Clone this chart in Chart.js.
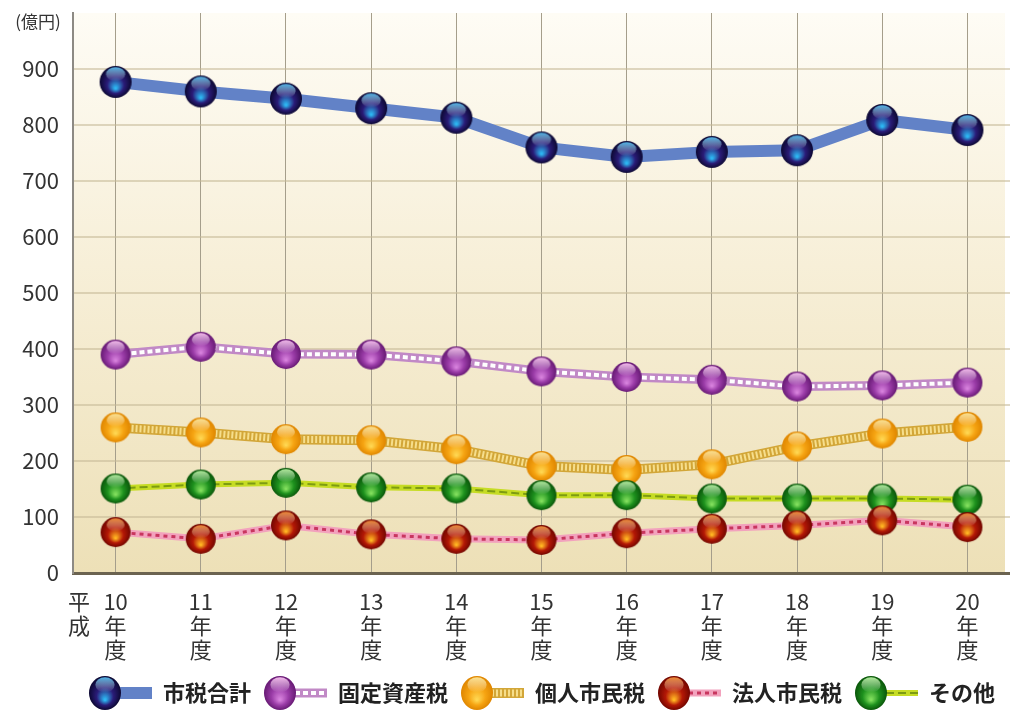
<!DOCTYPE html>
<html lang="ja">
<head>
<meta charset="utf-8">
<title>市税の推移</title>
<script src="https://cdn.jsdelivr.net/npm/chart.js@4.4.1/dist/chart.umd.min.js"></script>
<style>
  html, body { margin: 0; padding: 0; background: #fff; }
  #wrap { width: 1010px; height: 710px; }
</style>
</head>
<body>
<div id="wrap"><canvas id="taxChart" width="1010" height="710"></canvas></div>
<script>
// 平成10〜20年度 市税の推移（億円）
const years = ['10', '11', '12', '13', '14', '15', '16', '17', '18', '19', '20'];
const seriesNames = ['市税合計', '固定資産税', '個人市民税', '法人市民税', 'その他'];
const cityTaxTotal = [877, 860, 847, 830, 813, 760, 743, 752, 755, 809, 791];
const fixedAssetTax = [390, 404, 391, 390, 378, 360, 350, 345, 333, 335, 340];
const individualTax = [260, 251, 239, 237, 221, 191, 184, 194, 226, 249, 261];
const corporateTax = [73, 61, 85, 69, 61, 59, 71, 79, 85, 94, 82];
const otherTax = [151, 158, 161, 153, 151, 139, 139, 133, 133, 133, 131];
const yTicks = [0, 100, 200, 300, 400, 500, 600, 700, 800, 900];

const seriesData = [cityTaxTotal, fixedAssetTax, individualTax, corporateTax, otherTax];

const FONT = '"Noto Sans CJK JP", "Noto Sans", sans-serif';
Chart.defaults.font.family = FONT;

// glossy ball colours
const ballColors = [
    { edge: '#0c0832', body: '#2a1c78', glow: '#2db6f2', shine: 'rgba(80,200,255,0.9)' },
    { edge: '#671a74', body: '#9b3ca8', glow: '#d680dc', shine: 'rgba(255,195,245,0.95)' },
    { edge: '#df8600', body: '#f6a412', glow: '#ffd650', shine: 'rgba(255,238,160,0.9)' },
    { edge: '#720600', body: '#b41806', glow: '#ffb422', shine: 'rgba(255,150,50,0.9)' },
    { edge: '#0a560a', body: '#1e921e', glow: '#80de5c', shine: 'rgba(195,255,170,0.9)' }
];

// line band + inner pattern
const bandStyles = [
    { color: '#6282c7', width: 12 },
    { color: '#c189c6', width: 9, dash: [5, 3], dashColor: '#ffffff', dashWidth: 4 },
    { color: '#d2a638', width: 10, dash: [2, 2], dashColor: '#f6de8c', dashWidth: 7 },
    { color: '#f2a2bd', width: 7, dash: [4, 4], dashColor: '#c8365f', dashWidth: 3 },
    { color: '#c6dc24', width: 6, dash: [8, 4], dashColor: '#7d9b12', dashWidth: 2 }
];

// red balls sit over the green ones
const pointOrder = [4, 3, 2, 0, 1];

function drawBall(ctx, cx, cy, rx, ry, col) {
    ctx.save();
    ctx.translate(cx, cy);
    ctx.scale(1, ry / rx);
    const r = rx;
    let g = ctx.createRadialGradient(0, r * 0.4, r * 0.05, 0, 0, r);
    g.addColorStop(0, col.glow);
    g.addColorStop(0.5, col.body);
    g.addColorStop(1, col.edge);
    ctx.fillStyle = g;
    ctx.beginPath();
    ctx.arc(0, 0, r, 0, Math.PI * 2);
    ctx.fill();

    g = ctx.createLinearGradient(0, -r * 0.95, 0, -r * 0.05);
    g.addColorStop(0, col.shine);
    g.addColorStop(1, 'rgba(255,255,255,0)');
    ctx.fillStyle = g;
    ctx.beginPath();
    ctx.ellipse(0, -r * 0.48, r * 0.6, r * 0.44, 0, 0, Math.PI * 2);
    ctx.fill();
    ctx.restore();
}

function makeBallIcon(col, r) {
    const c = document.createElement('canvas');
    c.width = c.height = r * 2 + 2;
    drawBall(c.getContext('2d'), r + 1, r + 1, r, r, col);
    return c;
}

function makeLegendIcon(col, s) {
    const c = document.createElement('canvas');
    c.width = 64;
    c.height = 36;
    const ctx = c.getContext('2d');
    ctx.lineCap = 'butt';
    ctx.strokeStyle = s.color;
    ctx.lineWidth = s.width;
    ctx.beginPath();
    ctx.moveTo(26, 18);
    ctx.lineTo(64, 18);
    ctx.stroke();
    if (s.dash) {
        ctx.strokeStyle = s.dashColor;
        ctx.lineWidth = s.dashWidth;
        ctx.setLineDash(s.dash);
        ctx.beginPath();
        ctx.moveTo(32, 18);
        ctx.lineTo(64, 18);
        ctx.stroke();
    }
    drawBall(ctx, 17, 18, 16, 17, col);
    return c;
}

const ballIcons = ballColors.map((col, i) => makeBallIcon(col, i === 0 ? 16 : 15));
const legendIcons = ballColors.map((col, i) => makeLegendIcon(col, bandStyles[i]));

const datasets = [];
seriesData.forEach((values, i) => {
    const s = bandStyles[i];
    datasets.push({
        label: seriesNames[i],
        data: values,
        borderColor: s.color,
        borderWidth: s.width,
        borderJoinStyle: 'round',
        pointRadius: 0,
        tension: 0,
        order: 20 + i
    });
    if (s.dash) {
        datasets.push({
            label: seriesNames[i],
            data: values,
            borderColor: s.dashColor,
            borderWidth: s.dashWidth,
            borderDash: s.dash,
            pointRadius: 0,
            tension: 0,
            order: 10 + i
        });
    }
    datasets.push({
        label: seriesNames[i],
        data: values,
        showLine: false,
        pointStyle: ballIcons[i],
        pointRadius: 16,
        order: pointOrder[i]
    });
});

// cream gradient behind the plot
const chartBackground = {
    id: 'chartBackground',
    beforeDraw(chart) {
        const { ctx, chartArea: a } = chart;
        const g = ctx.createLinearGradient(0, a.top, 0, a.bottom);
        g.addColorStop(0, '#fefcf5');
        g.addColorStop(0.45, '#f7efd8');
        g.addColorStop(1, '#ede0b7');
        ctx.save();
        ctx.fillStyle = g;
        ctx.fillRect(a.left, a.top, a.right - a.left - 5, a.bottom - a.top);
        ctx.restore();
    }
};

// unit label and era name
const axisNotes = {
    id: 'axisNotes',
    afterDraw(chart) {
        const { ctx, chartArea: a } = chart;
        ctx.save();
        ctx.fillStyle = '#333';
        ctx.textAlign = 'center';
        ctx.textBaseline = 'middle';
        ctx.font = '17px ' + FONT;
        ctx.fillText('(億円)', 38, 22);
        ctx.font = '22px ' + FONT;
        ctx.fillText('平', 79, a.bottom + 29);
        ctx.fillText('成', 79, a.bottom + 53);
        ctx.restore();
    }
};

new Chart(document.getElementById('taxChart'), {
    type: 'line',
    data: {
        labels: years.map(y => [y, '年', '度']),
        datasets: datasets
    },
    options: {
        responsive: false,
        animation: false,
        layout: { autoPadding: false, padding: { bottom: -4 } },
        scales: {
            x: {
                offset: true,
                afterFit: scale => {
                    scale.paddingLeft = 0;
                    scale.paddingRight = 0;
                    scale.height += 8;
                },
                grid: {
                    offset: false,
                    color: '#a59e8b',
                    lineWidth: 1,
                    tickLength: 17,
                    tickColor: 'rgba(0,0,0,0)'
                },
                border: { color: '#6b6350', width: 3 },
                ticks: {
                    color: '#333',
                    padding: 0,
                    maxRotation: 0,
                    autoSkip: false,
                    font: { size: 22, lineHeight: '24px' }
                }
            },
            y: {
                min: 0,
                max: 1000,
                afterBuildTicks: scale => { scale.ticks = yTicks.map(v => ({ value: v })); },
                afterFit: scale => {
                    scale.width = 73;
                    scale.paddingTop = 13;
                    scale.paddingBottom = 0;
                },
                grid: { color: 'rgba(196,184,150,0.55)', lineWidth: 2, drawTicks: false },
                border: { color: '#8d8a84', width: 2 },
                ticks: {
                    color: '#333',
                    padding: 14,
                    font: { size: 22 }
                }
            }
        },
        plugins: {
            tooltip: { enabled: false },
            legend: {
                position: 'bottom',
                fullSize: false,
                align: 'center',
                onClick: null,
                labels: {
                    usePointStyle: true,
                    pointStyleWidth: 64,
                    padding: 12,
                    color: '#222',
                    font: { size: 22, weight: 'bold' },
                    generateLabels: () => seriesNames.map((name, i) => ({
                        text: name,
                        pointStyle: legendIcons[i],
                        fillStyle: 'transparent',
                        strokeStyle: 'transparent',
                        lineWidth: 0,
                        hidden: false,
                        fontColor: '#222',
                        datasetIndex: i
                    }))
                }
            }
        }
    },
    plugins: [chartBackground, axisNotes]
});
</script>
</body>
</html>
